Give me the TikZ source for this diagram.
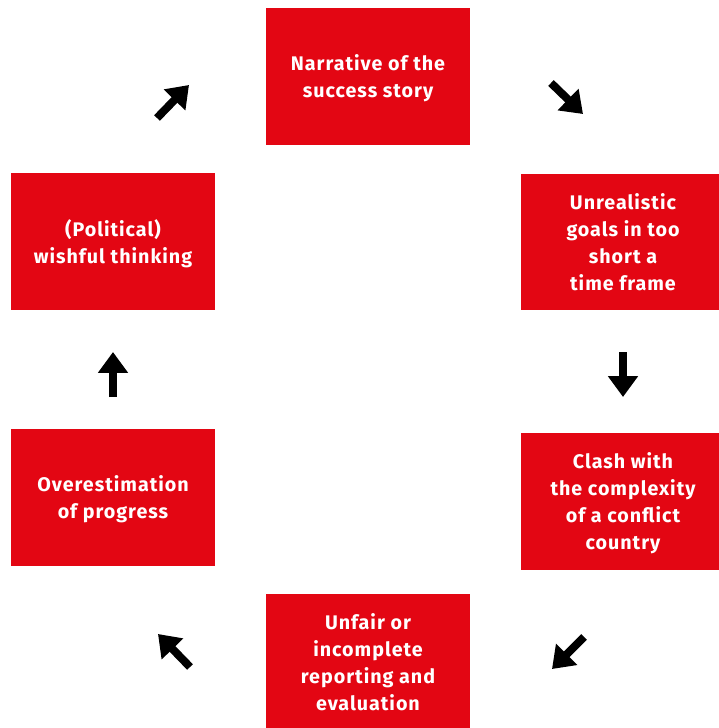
\documentclass[tikz,border=0pt]{standalone}
\usepackage{fontspec}
\setmainfont{Fira Sans}[LetterSpace=5]
\usetikzlibrary{positioning, arrows.meta}
\definecolor{boxred}{HTML}{E30613}

\begin{document}
\begin{tikzpicture}[
    x=0.025cm, y=-0.025cm,
    stage/.style={fill=boxred, text=white, font=\fontsize{14}{19.2}\selectfont\bfseries,
        align=center, inner sep=0pt, text depth=0pt,
        minimum width=5.1cm, minimum height=3.425cm},
    flow/.style={line width=0.2cm, -{Triangle[width=0.72cm, length=0.52cm]}},
]
\useasboundingbox (0,0) rectangle (718,728);

% Cycle stages
\node[stage] (narr) at (368,76.5) {Narrative of the\\success story};
\node[stage, minimum height=3.4cm] (goals) at (623,242) {Unrealistic\\goals in too\\short a\\time frame};
\node[stage] (clash) at (623,501.5) {Clash with\\the complexity\\of a conflict\\country};
\node[stage] (unfair) at (368,662.5) {Unfair or\\incomplete\\reporting and\\evaluation};
\node[stage] (overest) at (113,497.5) {Overestimation\\of progress};
\node[stage] (wish) at (113,241.5) {(Political)\\wishful thinking};

% Arrow ends
\coordinate (a1s) at (551,83);  \coordinate (a1e) at (583,114);
\coordinate (a2s) at (623,352); \coordinate (a2e) at (623,397);
\coordinate (a3s) at (584,637); \coordinate (a3e) at (552,669);
\coordinate (a4s) at (190,667); \coordinate (a4e) at (158,634);
\coordinate (a5s) at (113,397); \coordinate (a5e) at (113,352);
\coordinate (a6s) at (157,118); \coordinate (a6e) at (189,85);

\foreach \i in {1,...,6}
    \draw[flow] (a\i s) -- (a\i e);

\end{tikzpicture}
\end{document}
